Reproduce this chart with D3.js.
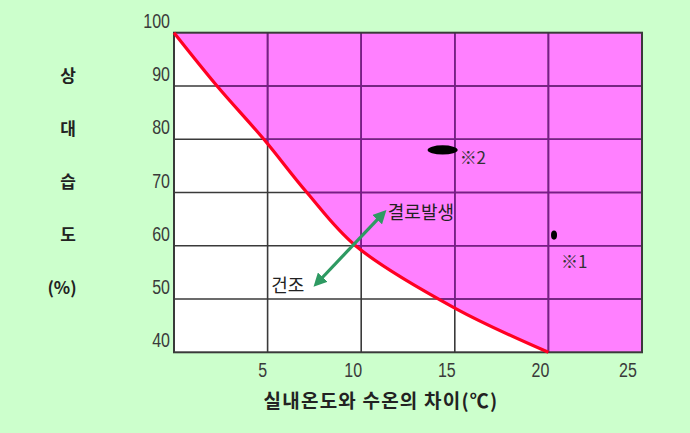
<!DOCTYPE html>
<html><head><meta charset="utf-8">
<script src="https://cdn.jsdelivr.net/npm/d3@7"></script>
<style>
html,body{margin:0;padding:0;background:#ccffcc;}
svg{display:block;}
</style></head>
<body>
<svg id="chart" width="690" height="433"></svg>
<script>
// ---- data ----
const xTicks = [5, 10, 15, 20, 25];
const yTicks = [40, 50, 60, 70, 80, 90, 100];
// dew condensation boundary (temperature difference, relative humidity)
const curveX = [0, 2.3, 4.8, 7.1, 9.7, 15, 20];
const curveY = [100, 90, 80, 70, 60, 48.3, 40];
// marked points
const pointLabels = ["※1", "※2"];
const pointX = [20.3, 14.35];
const pointY = [62, 78];
const pointRx = [3, 15];
// arrow between regions
const arrowX = [7.7, 11.1];
const arrowY = [53.2, 65.8];
const regionLabels = ["건조", "결로발생"];
const yTitle = ["상", "대", "습", "도", "(%)"];
const xTitle = "실내온도와 수온의 차이(℃)";

const svg = d3.select("#chart");
const L = 174, R = 642, T = 32.7, B = 352.3;
const x = d3.scaleLinear().domain([0, 25]).range([L, R]);
const y = d3.scaleLinear().domain([40, 100]).range([B, T]);

const defs = svg.append("defs");
const pts = curveX.map((d, i) => [d, curveY[i]]);
const line = d3.line().x(d => x(d[0])).y(d => y(d[1])).curve(d3.curveCatmullRom.alpha(0.5));
const pinkPath = line(pts) + `L${x(25)},${y(40)}L${x(25)},${y(100)}Z`;

defs.append("clipPath").attr("id", "pinkclip").append("path").attr("d", pinkPath);
defs.append("marker").attr("id", "ah").attr("viewBox", "0 0 10 10")
  .attr("refX", 5).attr("refY", 5).attr("markerWidth", 4.2).attr("markerHeight", 4.2)
  .attr("orient", "auto-start-reverse")
  .append("path").attr("d", "M0,0L10,5L0,10Z").attr("fill", "#2e9a62");

// plot background
svg.append("rect").attr("x", L).attr("y", T).attr("width", R - L).attr("height", B - T).attr("fill", "#ffffff");
svg.append("path").attr("d", pinkPath).attr("fill", "#ff80ff");

function grid(g, color) {
  g.selectAll(".v").data(xTicks.slice(0, -1)).join("line")
    .attr("x1", d => x(d)).attr("x2", d => x(d)).attr("y1", T).attr("y2", B)
    .attr("stroke", color).attr("stroke-width", 1.6);
  g.selectAll(".h").data(yTicks.slice(1, -1)).join("line")
    .attr("x1", L).attr("x2", R).attr("y1", d => y(d)).attr("y2", d => y(d))
    .attr("stroke", color).attr("stroke-width", 1.6);
}
grid(svg.append("g"), "#3a3a3a");
grid(svg.append("g").attr("clip-path", "url(#pinkclip)"), "#7a1a8a");

// frame
svg.append("rect").attr("x", L).attr("y", T).attr("width", R - L).attr("height", B - T)
  .attr("fill", "none").attr("stroke", "#3a3a3a").attr("stroke-width", 2);

// curve
svg.append("path").attr("d", line(pts)).attr("fill", "none")
  .attr("stroke", "#ff0022").attr("stroke-width", 3.2);

// points
svg.selectAll(".pt").data(pointX).join("ellipse")
  .attr("cx", d => x(d)).attr("cy", (d, i) => y(pointY[i]))
  .attr("rx", (d, i) => pointRx[i]).attr("ry", 4.6).attr("fill", "#000");
const tickFont = "'Liberation Sans','Arial',sans-serif";
const kFont = "'Noto Sans CJK KR',sans-serif";
svg.append("text").attr("x", x(pointX[0]) + 7).attr("y", y(pointY[0]) + 33)
  .attr("font-family", kFont).attr("font-size", 17).attr("fill", "#333")
  .text(pointLabels[0]);
svg.append("text").attr("x", x(pointX[1]) + 17).attr("y", y(pointY[1]) + 14)
  .attr("font-family", kFont).attr("font-size", 17).attr("fill", "#333")
  .text(pointLabels[1]);

// arrow
svg.append("line").attr("x1", x(arrowX[0])).attr("y1", y(arrowY[0]))
  .attr("x2", x(arrowX[1])).attr("y2", y(arrowY[1]))
  .attr("stroke", "#2e9a62").attr("stroke-width", 3.2)
  .attr("marker-start", "url(#ah)").attr("marker-end", "url(#ah)");

svg.append("text").attr("x", x(arrowX[0]) - 47).attr("y", y(arrowY[0]) + 10)
  .attr("font-family", kFont).attr("font-size", 18).attr("fill", "#222")
  .text(regionLabels[0]);
svg.append("text").attr("x", x(arrowX[1]) + 6).attr("y", y(arrowY[1]) + 4)
  .attr("font-family", kFont).attr("font-size", 18).attr("fill", "#222")
  .text(regionLabels[1]);

// axis tick labels (condensed look via horizontal scaling)
svg.append("g").selectAll("text").data(yTicks).join("text")
  .attr("transform", d => `translate(${L - 4},${y(d) - 5}) scale(0.8,1)`)
  .attr("text-anchor", "end").attr("font-family", tickFont).attr("font-size", 20).attr("fill", "#3a3a3a")
  .text(d => d);
svg.append("g").selectAll("text").data(xTicks).join("text")
  .attr("transform", (d, i) => `translate(${x(d) - (i === 0 ? 5 : i === 4 ? 14 : 8)},${B + 25}) scale(0.8,1)`)
  .attr("text-anchor", "middle").attr("font-family", tickFont).attr("font-size", 20).attr("fill", "#3a3a3a")
  .text(d => d);

// titles
svg.append("text").attr("x", 381).attr("y", 408).attr("text-anchor", "middle")
  .attr("font-family", kFont).attr("font-size", 19).attr("letter-spacing", 1.2).attr("font-weight", "bold").attr("fill", "#222")
  .text(xTitle);
svg.append("g").selectAll("text").data(yTitle).join("text")
  .attr("x", (d, i) => i === 4 ? 62 : 68).attr("y", (d, i) => 82 + i * 53)
  .attr("text-anchor", "middle").attr("font-family", kFont)
  .attr("font-size", 17).attr("font-weight", "bold").attr("fill", "#222")
  .text(d => d);
</script>
</body></html>
